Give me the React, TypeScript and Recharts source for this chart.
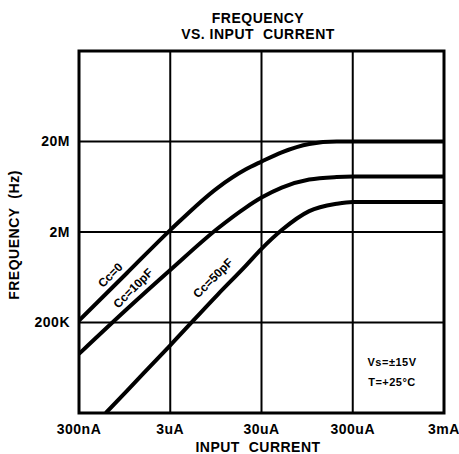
import React from 'react';
import {
  LineChart,
  Line,
  XAxis,
  YAxis,
  CartesianGrid,
  ReferenceArea,
  ReferenceDot,
} from 'recharts';

// input current (A) / frequency (Hz)
const currentsCc0 = [3e-7, 1e-6, 3e-6, 1e-5, 2e-5, 3e-5, 5e-5, 1e-4, 2e-4, 3e-4, 1e-3, 3e-3];
const freqCc0 = [2.1e5, 7e5, 2.1e6, 6.2e6, 9.8e6, 1.2e7, 1.52e7, 1.88e7, 2e7, 2e7, 2e7, 2e7];

const currentsCc10 = [3e-7, 1e-6, 3e-6, 1e-5, 2e-5, 3e-5, 5e-5, 1e-4, 2e-4, 3e-4, 1e-3, 3e-3];
const freqCc10 = [9e4, 2.8e5, 7.6e5, 2.2e6, 3.7e6, 4.8e6, 6.2e6, 7.6e6, 8.1e6, 8.2e6, 8.2e6, 8.2e6];

const currentsCc50 = [5.9e-7, 1e-6, 3e-6, 1e-5, 2e-5, 3e-5, 5e-5, 1e-4, 2e-4, 3e-4, 1e-3, 3e-3];
const freqCc50 = [2e4, 3.5e4, 1.12e5, 4.1e5, 8.4e5, 1.3e6, 2.1e6, 3.4e6, 4.1e6, 4.3e6, 4.3e6, 4.3e6];

const xTicks = [3e-7, 3e-6, 3e-5, 3e-4, 3e-3];
const xTickLabels = ['300nA', '3uA', '30uA', '300uA', '3mA'];
const yTicks = [2e5, 2e6, 2e7];
const yTickLabels = ['200K', '2M', '20M'];

const toPoints = (xs: number[], ys: number[]) => xs.map((x, i) => ({ x, y: ys[i] }));

const FONT = '"Liberation Sans", Arial, sans-serif';

const App: React.FC = () => {
  const cc0 = toPoints(currentsCc0, freqCc0);
  const cc10 = toPoints(currentsCc10, freqCc10);
  const cc50 = toPoints(currentsCc50, freqCc50);

  const tickStyle = { fill: '#000', fontSize: 14, fontWeight: 700, fontFamily: FONT, letterSpacing: 0.5 };
  const textStyle: React.CSSProperties = {
    position: 'absolute',
    fontFamily: FONT,
    fontWeight: 700,
    fontSize: 14,
    letterSpacing: 0.5,
    color: '#000',
    whiteSpace: 'nowrap',
    transform: 'translate(-50%, -50%)',
  };

  const curveLabel = (text: string) => ({
    value: text,
    angle: -45,
    position: 'center' as const,
    fill: '#000',
    fontSize: 12,
    fontWeight: 700,
    fontFamily: FONT,
  });

  return (
    <div style={{ position: 'absolute', left: 0, top: 0, width: 459, height: 454, background: '#fff' }}>
      <div style={{ ...textStyle, left: 258, top: 18 }}>FREQUENCY</div>
      <div style={{ ...textStyle, left: 258, top: 34 }}>VS. INPUT&nbsp; CURRENT</div>
      <div style={{ ...textStyle, left: 14, top: 235, transform: 'translate(-50%, -50%) rotate(-90deg)' }}>
        FREQUENCY&nbsp; (Hz)
      </div>
      <div style={{ ...textStyle, left: 258, top: 447 }}>INPUT&nbsp; CURRENT</div>
      <div style={{ ...textStyle, left: 392, top: 362, fontSize: 11 }}>Vs=±15V</div>
      <div style={{ ...textStyle, left: 392, top: 382, fontSize: 11 }}>T=+25°C</div>

      <LineChart width={459} height={454} margin={{ top: 51, right: 15, bottom: 11, left: 0 }}>
        <CartesianGrid stroke="#000" strokeWidth={2} fill="none" />
        <XAxis
          type="number"
          dataKey="x"
          scale="log"
          domain={[3e-7, 3e-3]}
          ticks={xTicks}
          tickFormatter={(v: number) => xTickLabels[xTicks.findIndex((t) => Math.abs(t - v) / t < 1e-6)] ?? ''}
          allowDataOverflow
          height={30}
          axisLine={false}
          tickLine={false}
          tickSize={0}
          tickMargin={11}
          tick={tickStyle}
          interval={0}
        />
        <YAxis
          type="number"
          dataKey="y"
          scale="log"
          domain={[2e4, 2e8]}
          ticks={yTicks}
          tickFormatter={(v: number) => yTickLabels[yTicks.findIndex((t) => Math.abs(t - v) / t < 1e-6)] ?? ''}
          allowDataOverflow
          width={79}
          axisLine={false}
          tickLine={false}
          tickSize={0}
          tickMargin={9}
          tick={tickStyle}
          interval={0}
        />
        <ReferenceArea x1={3e-7} x2={3e-3} y1={2e4} y2={2e8} fill="none" stroke="#000" strokeWidth={3} />
        <Line data={cc0} dataKey="y" type="monotone" stroke="#000" strokeWidth={4} dot={false} isAnimationActive={false} />
        <Line data={cc10} dataKey="y" type="monotone" stroke="#000" strokeWidth={4} dot={false} isAnimationActive={false} />
        <Line data={cc50} dataKey="y" type="monotone" stroke="#000" strokeWidth={4} dot={false} isAnimationActive={false} />
        <ReferenceDot x={6.6e-7} y={6.7e5} r={0} stroke="none" fill="none" label={curveLabel('Cc=0')} />
        <ReferenceDot x={1.17e-6} y={4.8e5} r={0} stroke="none" fill="none" label={curveLabel('Cc=10pF')} />
        <ReferenceDot x={8.8e-6} y={6.2e5} r={0} stroke="none" fill="none" label={curveLabel('Cc=50pF')} />
      </LineChart>
    </div>
  );
};

export default App;
